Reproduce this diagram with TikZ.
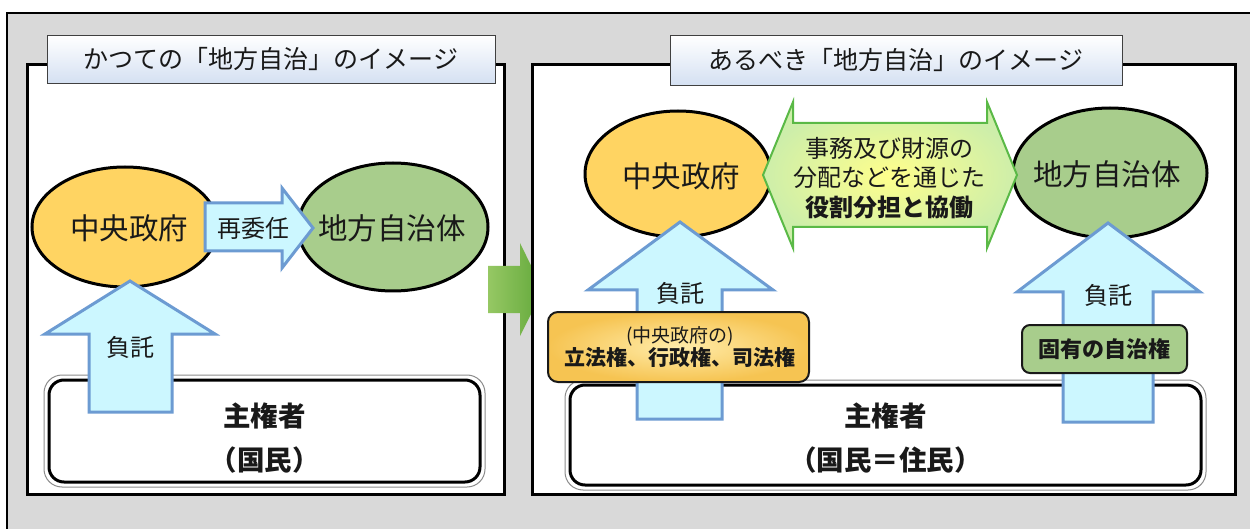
\documentclass[tikz,border=0pt]{standalone}
\usepackage{fontspec}
\setmainfont{Noto Sans CJK JP}
\usetikzlibrary{shapes.geometric}
\definecolor{bggray}{RGB}{217,217,217}
\definecolor{orangeF}{RGB}{255,212,98}
\definecolor{greenF}{RGB}{168,205,140}
\definecolor{arrcyan}{RGB}{204,247,255}
\definecolor{arrblue}{RGB}{108,155,210}
\definecolor{titleblue}{RGB}{212,224,242}
\definecolor{dblgreen}{RGB}{90,185,70}
\definecolor{yellowC}{RGB}{255,255,140}
\definecolor{yellowE}{RGB}{205,238,170}
\definecolor{boxOc}{RGB}{255,236,170}
\definecolor{boxOe}{RGB}{246,196,82}
\definecolor{bigG1}{RGB}{150,200,100}
\definecolor{bigG2}{RGB}{98,168,58}
\begin{document}
\begin{tikzpicture}[x=1pt,y=-1pt,
  ell/.style={ellipse, draw=black, line width=3pt, inner sep=0pt},
  panel/.style={fill=white, draw=black, line width=3pt},
  titlebox/.style={draw=black!75, line width=1pt, top color=white, bottom color=titleblue, inner sep=0pt},
  uparr/.style={fill=arrcyan, draw=arrblue, line width=3pt, line join=miter},
  sovbox/.style={draw=black, line width=3pt, rounded corners=15pt, fill=white, inner sep=0pt},
  sovring/.style={draw=black!45, line width=1pt, rounded corners=18pt},
  lbl/.style={inner sep=0pt, text=black!90},
  f29/.style={font=\fontsize{29.5}{34}\selectfont},
  f25/.style={font=\fontsize{25}{30}\selectfont},
  f24/.style={font=\fontsize{24}{28}\selectfont},
  f23/.style={font=\fontsize{24}{29.5}\selectfont},
  f27b/.style={font=\fontsize{27.5}{32}\selectfont\bfseries},
]
\useasboundingbox (0,0) rectangle (1250,529);
\clip (0,0) rectangle (1250,529);
\fill[white] (0,0) rectangle (1250,529);
% outer frame
\draw[fill=bggray, draw=black, line width=2pt] (7,13) rectangle (1260,540);

% ---------------- left panel ----------------
\draw[panel] (27,65) rectangle (504,494);
\node[titlebox, minimum width=448pt, minimum height=48pt] (titleL) at (271,59.5) {};
\node[lbl, f25] (titleLt) at (titleL.center) {かつての「地方自治」のイメージ};

\node[ell, fill=orangeF, minimum width=186pt, minimum height=120pt] (govL) at (125,227) {};
\node[ell, fill=greenF, minimum width=190pt, minimum height=128pt] (locL) at (393,227) {};
\node[lbl, f29] at (129,228) {中央政府};
\node[lbl, f29] at (392,228) {地方自治体};

% sovereign box left
\node[sovbox, minimum width=431pt, minimum height=102pt] (sovL) at (264.5,431) {};
\draw[sovring] ([shift={(-3.5,-3.5)}]sovL.north west) rectangle ([shift={(3.5,3.5)}]sovL.south east);

% re-delegation arrow
\draw[uparr] (205,203) -- (282,203) -- (282,188) -- (313,228) -- (282,268) -- (282,251) -- (205,251) -- cycle;
\node[lbl, f24] (reL) at (253,228) {再委任};

% entrust arrow left
\draw[uparr] (89,412) -- (89,334) -- (45,334) -- (130,281) -- (215,334) -- (172,334) -- (172,412) -- cycle;
\node[lbl, f24] (futakuL) at (130,347) {負託};

\node[lbl, f27b, align=center] (sovLt) at (264.5,438) {主権者\\[0.45em]（国民）};

% ---------------- transition arrow ----------------
\shade[left color=bigG1, right color=bigG2] (488,266) -- (520,266) -- (520,243) -- (543,290) -- (520,336) -- (520,313) -- (488,313) -- cycle;

% ---------------- right panel ----------------
\draw[panel] (532,65) rectangle (1235,494);
\node[titlebox, minimum width=452pt, minimum height=50pt] (titleR) at (896,60.5) {};
\node[lbl, f25] (titleRt) at (titleR.center) {あるべき「地方自治」のイメージ};

\node[ell, fill=orangeF, minimum width=186pt, minimum height=126pt] (govR) at (678,174) {};
\node[ell, fill=greenF, minimum width=194pt, minimum height=130pt] (locR) at (1110,173) {};
\node[lbl, f29] at (681,176) {中央政府};
\node[lbl, f29] at (1107,174) {地方自治体};

% double arrow
\path[draw=dblgreen, line width=2pt, line join=miter, inner color=yellowC, outer color=yellowE]
  (763,175) -- (793,102) -- (793,123) -- (987,123) -- (987,102) -- (1017,175) -- (987,248) -- (987,227) -- (793,227) -- (793,248) -- cycle;
\node[lbl, f23, align=center] (share) at (889,178) {事務及び財源の\\分配などを通じた\\\textbf{役割分担と協働}};

% sovereign box right
\node[sovbox, minimum width=631pt, minimum height=100pt] (sovR) at (885.5,435) {};
\draw[sovring] ([shift={(-3.5,-3.5)}]sovR.north west) rectangle ([shift={(3.5,3.5)}]sovR.south east);

% entrust arrows right
\draw[uparr] (637,419) -- (637,290) -- (588,290) -- (680,222) -- (773,290) -- (722,290) -- (722,419) -- cycle;
\node[lbl, f24] (futakuR1) at (680,293) {負託};
\draw[uparr] (1063,422) -- (1063,292) -- (1017,292) -- (1108,223) -- (1200,292) -- (1153,292) -- (1153,422) -- cycle;
\node[lbl, f24] (futakuR2) at (1108,295) {負託};

% power boxes
\node[draw=black!90, line width=2pt, rounded corners=10pt, inner color=boxOc, outer color=boxOe,
      minimum width=261pt, minimum height=70pt] (powC) at (678.5,347) {};
\node[lbl, align=center] at (680,347) {{\fontsize{19}{24}\selectfont (中央政府の)}\\[1pt]{\fontsize{21}{26}\selectfont\bfseries 立法権、行政権、司法権}};
\node[draw=black!90, line width=2pt, rounded corners=8pt, fill=greenF,
      minimum width=165pt, minimum height=48pt] (powL) at (1104.5,349) {};
\node[lbl, font=\fontsize{22}{26}\selectfont\bfseries] at (powL.center) {固有の自治権};

\node[lbl, f27b, align=center] (sovRt) at (885.5,438) {主権者\\[0.45em]（国民＝住民）};
\end{tikzpicture}
\end{document}
